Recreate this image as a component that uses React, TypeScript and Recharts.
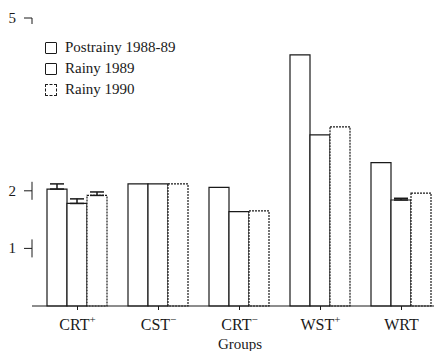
import { BarChart, Bar, XAxis, YAxis, ErrorBar } from 'recharts'

const groupNames = ['CRT', 'CST', 'CRT', 'WST', 'WRT']
const groupSups = ['+', '−', '−', '+', '']
const postrainy = [2.03, 2.12, 2.06, 4.36, 2.49]
const rainy89 = [1.78, 2.12, 1.64, 2.97, 1.84]
const rainy90 = [1.92, 2.12, 1.65, 3.11, 1.96]
const postrainyErr = [0.09, 0, 0, 0, 0]
const rainy89Err = [0.08, 0, 0, 0, 0.03]
const rainy90Err = [0.06, 0, 0, 0, 0]
const yTicks = [1, 2, 5]

const seriesNames = ['Postrainy 1988-89', 'Rainy 1989', 'Rainy 1990']

const err = (e: number) => (e > 0 ? [0, e] : null)

const data = groupNames.map((g, i) => ({
  group: g + groupSups[i],
  postrainy: postrainy[i],
  rainy89: rainy89[i],
  rainy90: rainy90[i],
  eP: err(postrainyErr[i]),
  e89: err(rainy89Err[i]),
  e90: err(rainy90Err[i]),
}))

const INK = '#1a1a1a'
const SERIF = '"Liberation Serif", "DejaVu Serif", serif'

function YTick({ x, y, payload }: any) {
  const top = payload.value === 5
  return (
    <g>
      <text x={x - 16} y={y + 5} textAnchor="end" fontFamily={SERIF} fontSize={15} fill={INK}>
        {payload.value}
      </text>
      <line x1={x - 8} y1={y} x2={x} y2={y} stroke={INK} />
      <line x1={x} y1={top ? y : y - 9} x2={x} y2={top ? y + 6 : y + 9} stroke={INK} />
    </g>
  )
}

function XTick({ x, y, payload, index }: any) {
  const i = payload.index ?? index
  return (
    <text x={x} y={y + 18} textAnchor="middle" fontFamily={SERIF} fontSize={16} fill={INK}>
      {groupNames[i]}
      {groupSups[i] && <tspan dy={-7} fontSize={11}>{groupSups[i]}</tspan>}
    </text>
  )
}

// legend sits over the empty top-left of the plot
function LegendBox() {
  return (
    <div style={{ position: 'absolute', left: 45, top: 37, fontFamily: SERIF, fontSize: 15, color: INK, lineHeight: '21px' }}>
      {seriesNames.map((n, i) => (
        <div key={n} style={{ display: 'flex', alignItems: 'center' }}>
          <span style={{
            display: 'inline-block', width: 10, height: 10, marginRight: 8,
            border: `1px ${i === 2 ? 'dashed' : 'solid'} ${INK}`, borderRadius: 1,
          }} />
          {n}
        </div>
      ))}
    </div>
  )
}

export default function App() {
  return (
    <div style={{ position: 'absolute', left: 0, top: 0, width: 434, height: 351, overflow: 'hidden', background: '#fff' }}>
      <BarChart width={442} height={351} data={data}
                margin={{ top: 18, right: 0, left: 0, bottom: 0 }}
                barCategoryGap={10} barGap={0}>
        <XAxis dataKey="group" height={45} padding={{ left: 5, right: 0 }}
               stroke={INK} tickSize={4} tick={<XTick />} interval={0}
               label={{ value: 'Groups', position: 'insideBottom', offset: 2, fontFamily: SERIF, fontSize: 15, fill: INK, dx: 3 }} />
        <YAxis type="number" domain={[0, 5]} ticks={yTicks} width={32}
               axisLine={false} tickLine={false} tickSize={0} tickMargin={0} tick={<YTick />} />
        <Bar dataKey="postrainy" name={seriesNames[0]} fill="#fff" stroke={INK} strokeWidth={1.2} isAnimationActive={false}>
          <ErrorBar dataKey="eP" width={7} stroke={INK} direction="y" />
        </Bar>
        <Bar dataKey="rainy89" name={seriesNames[1]} fill="#fff" stroke={INK} strokeWidth={1.2} isAnimationActive={false}>
          <ErrorBar dataKey="e89" width={7} stroke={INK} direction="y" />
        </Bar>
        <Bar dataKey="rainy90" name={seriesNames[2]} fill="#fff" stroke={INK} strokeWidth={1.2}
             strokeDasharray="2 1" isAnimationActive={false}>
          <ErrorBar dataKey="e90" width={7} stroke={INK} direction="y" />
        </Bar>
      </BarChart>
      <LegendBox />
    </div>
  )
}
